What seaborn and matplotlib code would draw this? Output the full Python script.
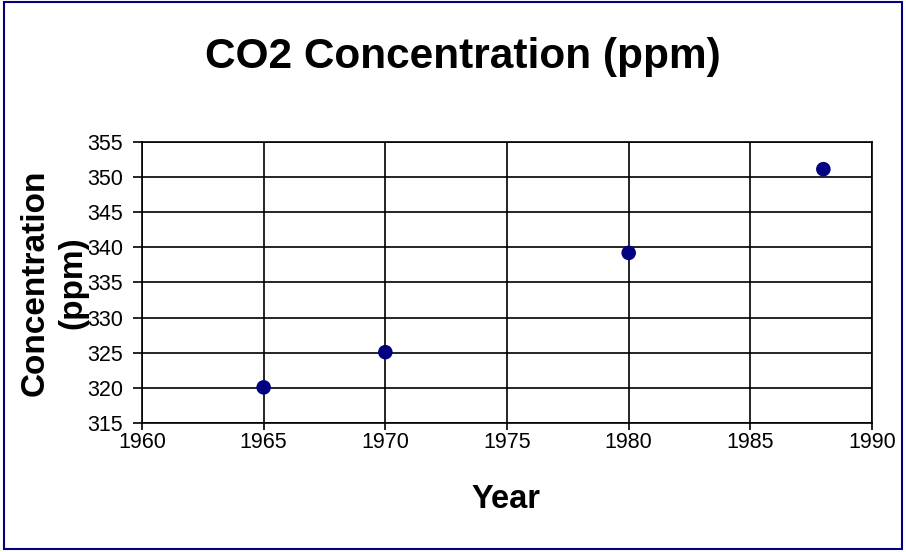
import numpy as np
import pandas as pd
import matplotlib
matplotlib.use("Agg")
import matplotlib.pyplot as plt
import seaborn as sns
from matplotlib.patches import Rectangle

# Data
years = [1965, 1970, 1980, 1988]
co2_ppm = [320.1, 325.1, 339.2, 351.1]
x_ticks = [1960, 1965, 1970, 1975, 1980, 1985, 1990]
y_ticks = [315, 320, 325, 330, 335, 340, 345, 350, 355]

df = pd.DataFrame({"Year": years, "CO2": co2_ppm})

sns.set_style("white")
plt.rcParams['font.family'] = ['Liberation Sans', 'DejaVu Sans']
plt.rcParams['text.color'] = 'black'
plt.rcParams['xtick.color'] = 'black'
plt.rcParams['ytick.color'] = 'black'

fig = plt.figure(figsize=(9.06, 5.52), dpi=100)
ax = fig.add_axes([0.1567, 0.2332, 0.8058, 0.5101])

sns.scatterplot(data=df, x="Year", y="CO2", color="#000080", s=110,
                edgecolor="none", ax=ax, zorder=5, clip_on=False)

ax.set_xlim(1960, 1990)
ax.set_ylim(315, 355)
ax.set_xticks(x_ticks)
ax.set_yticks(y_ticks)
ax.grid(True, color="black", linewidth=1.2)
ax.set_axisbelow(True)
for s in ax.spines.values():
    s.set_color("black")
    s.set_linewidth(1.2)

ax.tick_params(axis="x", direction="out", length=5, width=1.2,
               labelsize=15.5, pad=1, bottom=True)
ax.tick_params(axis="y", direction="out", length=6.5, width=1.2,
               labelsize=15.5, pad=7, left=True)
ax.set_xlabel("")
ax.set_ylabel("")

# Titles and labels
fig.text(463 / 906, 1 - 57 / 552, "CO2 Concentration (ppm)", ha="center",
         va="center", fontsize=30.5, fontweight="bold")
fig.text(506 / 906, 1 - 500 / 552, "Year", ha="center", va="center",
         fontsize=23.5, fontweight="bold")
fig.text(54 / 906, 1 - 283 / 552, "Concentration\n(ppm)", ha="center",
         va="center", rotation=90, fontsize=24, fontweight="bold",
         multialignment="center", linespacing=1.3)

# Outer navy border
fig.patches.append(Rectangle((4 / 906, 3 / 552), 898 / 906, 547 / 552,
                             transform=fig.transFigure, fill=False,
                             edgecolor="#000080", linewidth=1.5))

fig.savefig("out.png", dpi=100)
